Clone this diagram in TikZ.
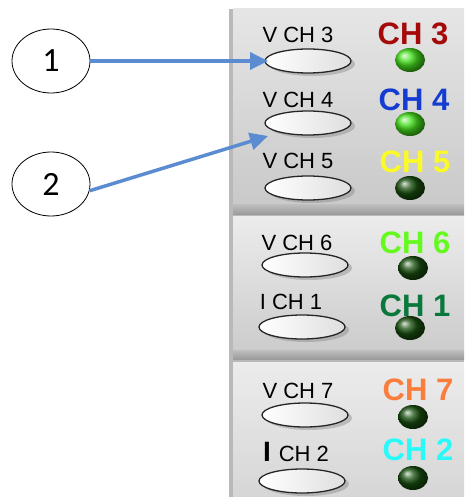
\documentclass[tikz,border=0pt]{standalone}
\usepackage{fontspec}
\setmainfont{Liberation Sans}
\newfontfamily\numfont{Carlito}
\usetikzlibrary{shapes.geometric,shadows,arrows.meta}
\definecolor{pointblue}{RGB}{91,139,208}
\definecolor{ledon}{RGB}{70,225,30}
\definecolor{ledoff}{RGB}{25,80,15}
\definecolor{chthree}{RGB}{165,10,10}
\definecolor{chfour}{RGB}{20,60,210}
\definecolor{chfive}{RGB}{250,250,40}
\definecolor{chsix}{RGB}{100,250,30}
\definecolor{chone}{RGB}{10,120,60}
\definecolor{chseven}{RGB}{250,125,60}
\definecolor{chtwo}{RGB}{40,250,250}

\begin{document}
\begin{tikzpicture}[x=1pt, y=-1pt,
    num/.style={ellipse, draw, thick, minimum width=78pt, minimum height=64pt,
                font=\numfont\fontsize{34}{34}\selectfont},
    btn/.style={ellipse, draw=gray!30!black, line width=1.3pt, minimum width=86pt,
                minimum height=24pt, left color=white, right color=gray!25,
                drop shadow={shadow xshift=4pt, shadow yshift=-3pt, opacity=0.4}},
    led/.style={ellipse, minimum width=30pt, minimum height=24pt, inner sep=0pt},
    lab/.style={font=\fontsize{22}{22}\selectfont, inner sep=0pt},
    chan/.style={font=\bfseries\fontsize{31}{31}\selectfont, inner sep=0pt},
    pointer/.style={pointblue, line width=3.5pt, -{Triangle[length=18pt, width=17pt]}}]
    \useasboundingbox (0,0) rectangle (464,497);

    % panel
    \fill[gray!55] (229,9) rectangle (464,497);
    \shade[top color=gray!20, bottom color=gray!42] (233,9) rectangle (464,204);
    \shade[top color=gray!50, bottom color=gray!78] (233,204) rectangle (464,214);
    \shade[top color=gray!15, bottom color=gray!40] (233,216) rectangle (464,350);
    \shade[top color=gray!50, bottom color=gray!78] (233,350) rectangle (464,359);
    \shade[top color=gray!15, bottom color=gray!32] (233,362) rectangle (464,497);

    % buttons
    \foreach \name/\x/\y in {b3/308/61, b4/308/123, b5/308/188, b6/305/265,
                             i1/302/327, b7/305/415, i2/302/481} {
        \node[btn] (\name) at (\x,\y) {};
    }

    % button labels
    \node[lab] (vch3) at (298,35) {V CH 3};
    \node[lab] (vch4) at (298,100) {V CH 4};
    \node[lab] (vch5) at (298,161) {V CH 5};
    \node[lab] (vch6) at (297,243) {V CH 6};
    \node[lab] (ich1) at (291,302) {I CH 1};
    \node[lab] (vch7) at (298,391) {V CH 7};
    \node[lab] (ich2) at (296,452) {{\bfseries\fontsize{28}{28}\selectfont I}\hspace{8pt}CH 2};

    % channel names
    \node[chan, text=chthree] (ch3) at (413,34) {CH 3};
    \node[chan, text=chfour] (ch4) at (414,100) {CH 4};
    \node[chan, text=chfive] (ch5) at (415,162) {CH 5};
    \node[chan, text=chsix] (ch6) at (415,243) {CH 6};
    \node[chan, text=chone] (ch1) at (415,306) {CH 1};
    \node[chan, text=chseven] (ch7) at (418,390) {CH 7};
    \node[chan, text=chtwo] (ch2) at (418,450) {CH 2};

    % lamps
    \node[led, ball color=ledon] (l3) at (410,60) {};
    \node[led, ball color=ledon] (l4) at (410,124) {};
    \node[led, ball color=ledoff] (l5) at (410,188) {};
    \node[led, ball color=ledoff] (l6) at (413,268) {};
    \node[led, ball color=ledoff] (l1) at (410,328) {};
    \node[led, ball color=ledoff] (l7) at (413,417) {};
    \node[led, ball color=ledoff] (l2) at (413,478) {};

    % callouts
    \node[num] (n1) at (51,61) {1};
    \node[num] (n2) at (51,184) {2};
    \coordinate (t1) at (268,61);
    \coordinate (t2) at (268,136);
    \draw[pointer] (n1.east) -- (t1);
    \draw[pointer] (n2.-10) -- (t2);
\end{tikzpicture}
\end{document}
